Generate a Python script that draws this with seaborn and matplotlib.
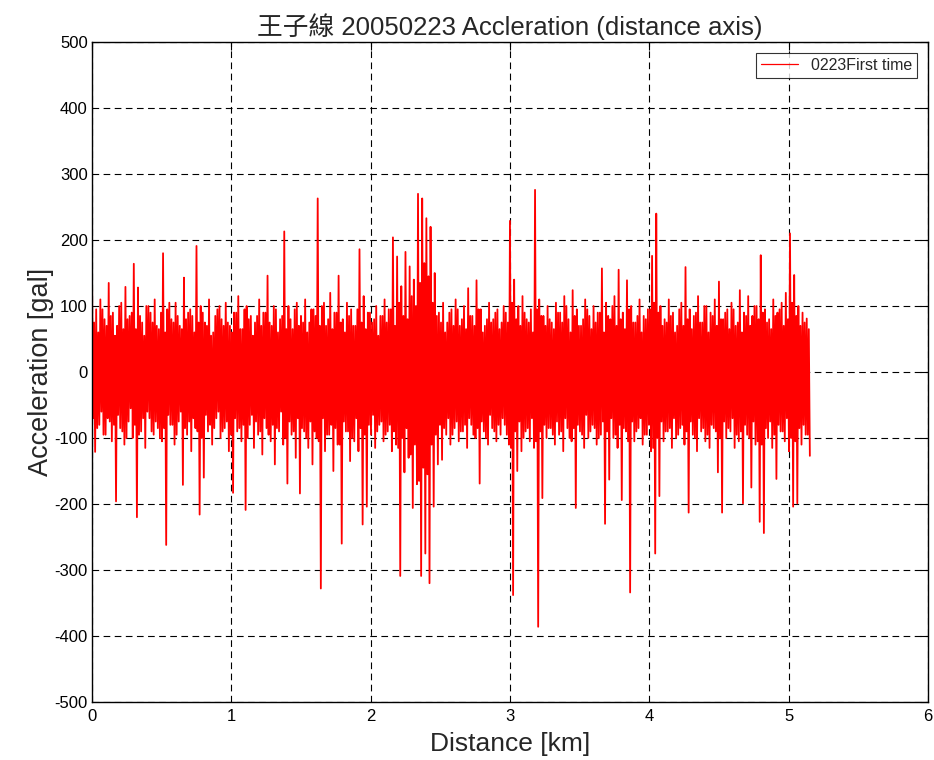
import numpy as np
import pandas as pd
import matplotlib
matplotlib.use("Agg")
import matplotlib.pyplot as plt
import seaborn as sns

# Sampling step along the line (km): four swings per 0.03 km
step_km = 0.0075

# Outer upper swing of the acceleration trace (gal)
upper = [150, 95, 110, 80, 135, 90, 70, 105, 129, 85,
         164, 128, 75, 100, 90, 110, 65, 180, 95, 80,
         105, 70, 143, 90, 85, 191, 100, 75, 110, 60,
         95, 80, 105, 70, 90, 115, 65, 100, 85, 75,
         110, 90, 146, 70, 95, 80, 213, 100, 65, 105,
         85, 110, 75, 95, 263, 100, 70, 120, 90, 146,
         80, 105, 95, 70, 186, 115, 90, 75, 100, 85,
         110, 95, 204, 175, 130, 182, 160, 140, 270, 263,
         233, 220, 150, 90, 105, 75, 95, 110, 70, 100,
         127, 85, 139, 95, 70, 105, 80, 95, 75, 90,
         229, 140, 100, 115, 80, 95, 276, 110, 85, 100,
         75, 105, 90, 115, 80, 124, 95, 70, 110, 85,
         100, 90, 157, 105, 80, 115, 155, 90, 139, 100,
         75, 110, 85, 95, 176, 240, 100, 80, 110, 90,
         70, 105, 159, 95, 85, 115, 75, 100, 90, 110,
         137, 80, 95, 105, 70, 124, 90, 115, 85, 100,
         177, 95, 80, 110, 90, 105, 120, 210, 147, 100,
         90, 81]

# Outer lower swing (gal)
lower = [-121, -80, -95, -70, -105, -196, -85, -110, -75, -100,
         -220, -90, -115, -70, -95, -85, -105, -262, -80, -110,
         -75, -171, -95, -120, -85, -216, -160, -90, -110, -70,
         -100, -85, -120, -183, -90, -105, -209, -80, -115, -95,
         -125, -85, -105, -140, -90, -110, -169, -95, -130, -184,
         -90, -115, -140, -100, -328, -120, -95, -150, -110, -260,
         -90, -135, -105, -120, -231, -204, -95, -115, -80, -105,
         -90, -120, -110, -309, -152, -130, -206, -170, -309, -275,
         -320, -204, -140, -133, -95, -110, -85, -105, -90, -115,
         -80, -100, -169, -90, -110, -85, -105, -95, -80, -110,
         -338, -150, -120, -90, -105, -115, -386, -191, -100, -85,
         -110, -95, -120, -85, -105, -206, -90, -115, -100, -80,
         -110, -95, -230, -163, -100, -115, -194, -90, -334, -105,
         -85, -110, -95, -120, -275, -188, -105, -90, -115, -100,
         -85, -110, -213, -95, -120, -90, -105, -115, -85, -152,
         -213, -100, -90, -115, -105, -199, -95, -175, -110, -227,
         -244, -100, -115, -162, -90, -105, -120, -204, -199, -110,
         -95, -127]

# Inner (core) swings (gal)
inner_up = [75, 60, 95, 70, 85, 55, 100, 65, 80, 90,
            65, 85, 55, 100, 75, 70, 90, 60, 105, 75,
            85, 65, 80, 95, 60, 75, 90, 70, 55, 85,
            100, 70, 75, 60, 90, 65, 95, 80, 55, 85,
            70, 90, 75, 100, 60, 85, 65, 80, 95, 70,
            75, 60, 95, 85, 70, 105, 80, 65, 90, 75,
            60, 85, 70, 95, 75, 65, 90, 80, 55, 85,
            75, 95, 70, 105, 85, 80, 115, 100, 135, 165,
            145, 105, 85, 75, 60, 90, 70, 95, 80, 65,
            85, 70, 95, 60, 80, 75, 90, 65, 100, 75,
            105, 80, 70, 90, 75, 60, 95, 85, 70, 80,
            65, 90, 75, 100, 60, 85, 70, 80, 95, 65,
            75, 90, 60, 85, 100, 70, 80, 65, 95, 75,
            85, 60, 80, 95, 105, 90, 70, 75, 85, 60,
            95, 70, 80, 65, 90, 75, 100, 60, 85, 70,
            80, 90, 65, 95, 75, 60, 85, 70, 100, 80,
            90, 75, 65, 85, 95, 70, 80, 105, 85, 70,
            75, 65]

inner_low = [-70, -85, -60, -95, -75, -80, -65, -90, -100, -55,
             -80, -95, -70, -60, -90, -75, -100, -85, -65, -80,
             -95, -60, -85, -75, -70, -90, -100, -65, -80, -85,
             -60, -90, -75, -95, -70, -85, -80, -100, -65, -75,
             -90, -70, -95, -80, -85, -60, -100, -75, -90, -70,
             -85, -100, -75, -90, -105, -70, -95, -80, -85, -110,
             -75, -90, -100, -70, -85, -95, -80, -65, -90, -75,
             -95, -80, -90, -115, -100, -85, -125, -110, -165, -145,
             -155, -110, -95, -80, -85, -70, -95, -75, -90, -80,
             -70, -95, -85, -75, -100, -65, -90, -80, -70, -95,
             -115, -90, -75, -100, -85, -70, -105, -90, -80, -85,
             -95, -75, -90, -70, -100, -85, -80, -95, -65, -90,
             -85, -100, -75, -90, -70, -95, -80, -85, -105, -75,
             -90, -70, -95, -80, -115, -100, -75, -90, -85, -70,
             -95, -80, -90, -75, -100, -70, -85, -95, -80, -90,
             -100, -75, -85, -70, -95, -90, -80, -100, -75, -105,
             -110, -85, -75, -95, -80, -90, -70, -100, -105, -85,
             -80, -95]

x_ticks = [0, 1, 2, 3, 4, 5, 6]
y_ticks = [-500, -400, -300, -200, -100, 0, 100, 200, 300, 400, 500]
series_name = "0223First time"
title = "王子線 20050223 Accleration (distance axis)"

# Interleave swings into one trace
accel = []
for u, il, iu, l in zip(upper, inner_low, inner_up, lower):
    accel.extend([u, il, iu, l])
dist = np.arange(len(accel)) * step_km
df = pd.DataFrame({"Distance": dist, "Acceleration": accel, "series": series_name})

sns.set_style("white")
fam = ["Liberation Sans", "Noto Sans CJK TC", "DejaVu Sans"]
plt.rcParams["font.family"] = fam
plt.rcParams["axes.unicode_minus"] = False

fig = plt.figure(figsize=(9.34, 7.6), dpi=100)
ax = fig.add_axes([0.0985, 0.0763, 0.895, 0.8684])

sns.lineplot(data=df, x="Distance", y="Acceleration", hue="series",
             palette=["#ff0000"], estimator=None, sort=False,
             linewidth=1.3, ax=ax)

ax.set_xlim(0, 6)
ax.set_ylim(-500, 500)
ax.set_xticks(x_ticks)
ax.set_yticks(y_ticks)
ax.tick_params(direction="in", length=6, width=0.8, top=True, right=True,
               labelsize=12, colors="black")
ax.tick_params(axis="x", pad=5)
ax.tick_params(axis="y", pad=3)
for lab in ax.get_xticklabels() + ax.get_yticklabels():
    lab.set_family(fam)

ax.set_axisbelow(True)
ax.grid(True, color="black", linestyle=(0, (6, 4)), linewidth=0.8)
for sp in ax.spines.values():
    sp.set_visible(True)
    sp.set_color("black")
    sp.set_linewidth(1.0)
    sp.set_zorder(3)

ax.set_xlabel("Distance [km]", fontsize=19, family=fam, labelpad=6)
ax.set_ylabel("Acceleration [gal]", fontsize=19.5, family=fam, labelpad=0)
ax.set_title(title, fontsize=18.5, family=fam, pad=5)

leg = ax.legend(loc="upper right", frameon=True, fancybox=False,
                edgecolor="black", fontsize=11.5, handlelength=2.3,
                borderpad=0.3, borderaxespad=0.7)
leg.get_frame().set_linewidth(0.8)
leg.get_lines()[0].set_linewidth(0.9)

fig.savefig("out.png", dpi=100)
